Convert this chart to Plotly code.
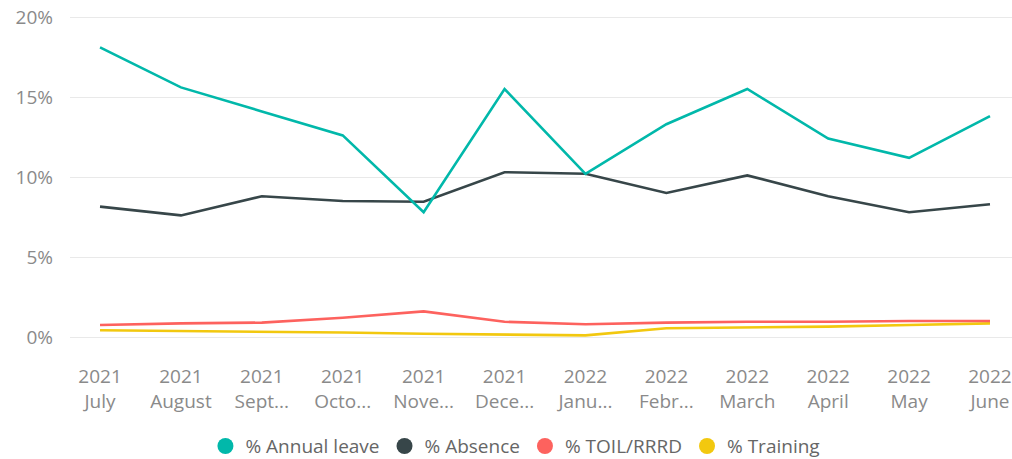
import plotly.graph_objects as go

# Monthly share of hours by category, July 2021 to June 2022
years = ["2021", "2021", "2021", "2021", "2021", "2021",
         "2022", "2022", "2022", "2022", "2022", "2022"]
months = ["July", "August", "Sept...", "Octo...", "Nove...", "Dece...",
          "Janu...", "Febr...", "March", "April", "May", "June"]

annual_leave = [18.1, 15.6, 14.1, 12.6, 7.8, 15.5, 10.2, 13.3, 15.5, 12.4, 11.2, 13.8]
absence = [8.15, 7.6, 8.8, 8.5, 8.45, 10.3, 10.2, 9.0, 10.1, 8.8, 7.8, 8.3]
toil_rrrd = [0.75, 0.85, 0.9, 1.2, 1.6, 0.95, 0.8, 0.9, 0.95, 0.95, 1.0, 1.0]
training = [0.42, 0.38, 0.33, 0.28, 0.2, 0.15, 0.1, 0.55, 0.6, 0.65, 0.75, 0.85]

y_ticks = [0, 5, 10, 15, 20]
y_tick_labels = ["0%", "5%", "10%", "15%", "20%"]

series = [
    ("% Annual leave", annual_leave, "#01B8AA"),
    ("% Absence", absence, "#374649"),
    ("% TOIL/RRRD", toil_rrrd, "#FD625E"),
    ("% Training", training, "#F2C80F"),
]

x_idx = list(range(len(months)))
tick_text = [f"{y}<br>{m}" for y, m in zip(years, months)]

fig = go.Figure()
# draw from last to first so the leading series sits on top
for name, vals, color in reversed(series):
    fig.add_trace(go.Scatter(
        x=x_idx, y=vals, mode="lines", name=name,
        line=dict(color=color, width=2.6),
        showlegend=False, hoverinfo="skip",
    ))
# circle markers for the legend
for name, vals, color in series:
    fig.add_trace(go.Scatter(
        x=[None], y=[None], mode="markers", name=name,
        marker=dict(color=color, size=16, symbol="circle"),
    ))

font_family = "Open Sans, Noto Sans, sans-serif"

fig.update_layout(
    width=1012, height=459,
    margin=dict(l=70, r=0, t=13, b=118, autoexpand=False),
    paper_bgcolor="white", plot_bgcolor="white",
    font=dict(family=font_family, size=19, color="#8a8a8a"),
    showlegend=True,
    legend=dict(
        orientation="h", xref="container", x=0.203, xanchor="left",
        yref="container", y=0.028, yanchor="middle",
        font=dict(size=19, color="#666666"),
        itemsizing="trace", itemwidth=30, tracegroupgap=0,
        bgcolor="rgba(0,0,0,0)",
    ),
    xaxis=dict(
        range=[-0.371, 11.272], automargin=False,
        tickmode="array", tickvals=x_idx, ticktext=tick_text,
        showgrid=False, zeroline=False, showline=False, ticks="",
        tickfont=dict(size=19, color="#8a8a8a"),
        ticklabelstandoff=22,
    ),
    yaxis=dict(
        range=[-0.25, 20.25], automargin=False,
        tickmode="array", tickvals=y_ticks, ticktext=y_tick_labels,
        showgrid=True, gridcolor="#e9e9e9", gridwidth=1,
        zeroline=False, showline=False, ticks="",
        tickfont=dict(size=19, color="#8a8a8a"),
        ticklabelstandoff=16,
    ),
)

fig.write_html("out.html")
